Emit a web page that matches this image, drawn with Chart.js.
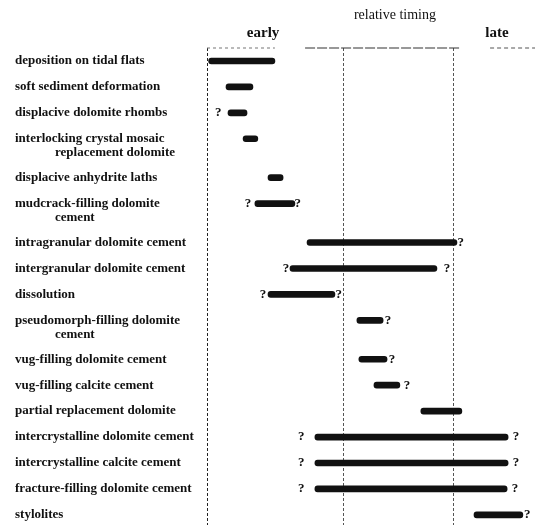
<!DOCTYPE html>
<html>
<head>
<meta charset="utf-8">
<script src="https://cdn.jsdelivr.net/npm/chart.js@4.4.1/dist/chart.umd.min.js"></script>
<style>
  html, body { margin: 0; padding: 0; background: #fff; }
  #wrap { position: relative; width: 535px; height: 525px; }
</style>
</head>
<body>
<div id="wrap"><canvas id="timingChart"></canvas></div>
<script>
// Paragenetic sequence - relative timing, 0 = early .. 100 = late
const stages = [
    ['deposition on tidal flats'],
    ['soft sediment deformation'],
    ['displacive dolomite rhombs'],
    ['interlocking crystal mosaic', 'replacement dolomite'],
    ['displacive anhydrite laths'],
    ['mudcrack-filling dolomite', 'cement'],
    ['intragranular dolomite cement'],
    ['intergranular dolomite cement'],
    ['dissolution'],
    ['pseudomorph-filling dolomite', 'cement'],
    ['vug-filling dolomite cement'],
    ['vug-filling calcite cement'],
    ['partial replacement dolomite'],
    ['intercrystalline dolomite cement'],
    ['intercrystalline calcite cement'],
    ['fracture-filling dolomite cement'],
    ['stylolites']
];
const starts = [0.5, 5.8, 6.4, 11.0, 18.6, 14.6, 30.5, 25.3, 18.6, 45.7, 46.3, 50.9, 65.2, 32.9, 32.9, 32.9, 81.4];
const ends   = [20.7, 14.0, 12.2, 15.5, 23.2, 26.8, 76.2, 70.1, 39.0, 53.7, 54.9, 58.8, 77.7, 91.8, 91.8, 91.5, 96.3];
// uncertain ends ("?")
const qEarly = [null, null, 3.4, null, null, 12.5, null, 24.1, 17.1, null, null, null, null, 28.7, 28.7, 28.7, null];
const qLate  = [null, null, null, null, null, 27.7, 77.4, 73.2, 40.2, 55.2, 56.4, 61.0, null, 94.2, 94.2, 93.9, 97.6];
// phase boundaries (dashed verticals)
const phaseLines = [0, 41.5, 75.3];

// rows: two-line labels take an extra half row
const rows = [];
stages.forEach((s, i) => {
    rows.push(i === 0 ? 0 : rows[i - 1] + 1 + 0.5 * (stages[i - 1].length - 1));
});

const SERIF = '"Liberation Serif", "Times New Roman", serif';

const sequencePlugin = {
    id: 'sequence',
    afterDatasetsDraw(chart) {
        const { ctx, scales: { x, y } } = chart;
        ctx.save();
        ctx.fillStyle = '#111';

        // row labels
        ctx.font = 'bold 13px ' + SERIF;
        ctx.textAlign = 'left';
        ctx.textBaseline = 'middle';
        rows.forEach((pos, i) => {
            const py = y.getPixelForValue(pos);
            stages[i].forEach((line, k) => {
                ctx.fillText(line, k ? 55 : 15, py + k * 14);
            });
        });

        // question marks
        ctx.font = 'bold 13px ' + SERIF;
        ctx.textAlign = 'center';
        [qEarly, qLate].forEach(arr => {
            arr.forEach((v, i) => {
                if (v === null) return;
                ctx.fillText('?', x.getPixelForValue(v), y.getPixelForValue(rows[i]));
            });
        });

        // header
        ctx.font = '14px ' + SERIF;
        ctx.fillText('relative timing', x.getPixelForValue(57.3), 15);
        ctx.font = 'bold 15px ' + SERIF;
        ctx.fillText('early', x.getPixelForValue(17.1), 33);
        ctx.fillText('late', x.getPixelForValue(88.4), 33);

        // dashed header rule
        const top = chart.chartArea.top;
        [[0, 20.7, [3, 3], '#777'], [29.9, 77.1, [10, 2], '#333'], [86.3, 100, [4, 3], '#555']].forEach(seg => {
            ctx.beginPath();
            ctx.setLineDash(seg[2]);
            ctx.strokeStyle = seg[3];
            ctx.lineWidth = 1.2;
            ctx.moveTo(x.getPixelForValue(seg[0]), top);
            ctx.lineTo(x.getPixelForValue(seg[1]), top);
            ctx.stroke();
        });
        ctx.restore();
    }
};

new Chart(document.getElementById('timingChart'), {
    type: 'bar',
    data: {
        datasets: [{
            data: rows.map((pos, i) => ({ x: [starts[i], ends[i]], y: pos })),
            backgroundColor: '#111',
            borderWidth: 0,
            borderSkipped: false,
            borderRadius: 3,
            barThickness: 6
        }]
    },
    options: {
        indexAxis: 'y',
        responsive: true,
        maintainAspectRatio: false,
        animation: false,
        layout: { padding: { left: 207, top: 48, right: 0, bottom: 0 } },
        plugins: {
            legend: { display: false },
            tooltip: { enabled: false }
        },
        scales: {
            x: {
                type: 'linear',
                min: 0,
                max: 100,
                afterBuildTicks: scale => {
                    scale.ticks = phaseLines.map(v => ({ value: v }));
                },
                afterFit: scale => { scale.height = 0; },
                ticks: { display: false },
                grid: {
                    drawTicks: false,
                    color: ctx => ctx.index === 0 ? '#222' : '#555',
                    lineWidth: 1
                },
                border: { display: false, dash: [3, 2] }
            },
            y: {
                type: 'linear',
                display: false,
                reverse: true,
                offset: false,
                min: -0.5,
                max: 17.89
            }
        }
    },
    plugins: [sequencePlugin]
});
</script>
</body>
</html>
